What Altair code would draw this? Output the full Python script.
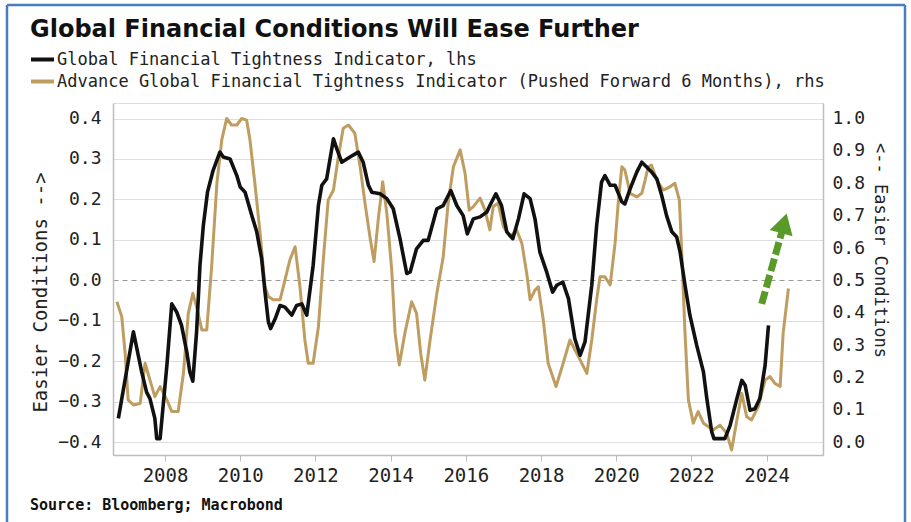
import altair as alt
import pandas as pd

# ---------------- text ----------------
TITLE = "Global Financial Conditions Will Ease Further"
SERIES_BLACK = "Global Financial Tightness Indicator, lhs"
SERIES_GOLD = "Advance Global Financial Tightness Indicator (Pushed Forward 6 Months), rhs"
SOURCE = "Source: Bloomberg; Macrobond"
LEFT_TITLE = "Easier Conditions -->"
RIGHT_TITLE = "<-- Easier Conditions"

# ---------------- axes ----------------
x_ticks = [2008, 2010, 2012, 2014, 2016, 2018, 2020, 2022, 2024]
left_ticks = [-0.4, -0.3, -0.2, -0.1, 0.0, 0.1, 0.2, 0.3, 0.4]
right_ticks = [0.0, 0.1, 0.2, 0.3, 0.4, 0.5, 0.6, 0.7, 0.8, 0.9, 1.0]

# ---------------- data ----------------
black_year = [2006.76, 2007.16, 2007.38, 2007.51, 2007.60, 2007.73, 2007.78, 2007.87, 2008.05, 2008.18,
              2008.31, 2008.44, 2008.58, 2008.66, 2008.74, 2008.84, 2008.93, 2009.02, 2009.13, 2009.28,
              2009.46, 2009.55, 2009.73, 2009.91, 2010.00, 2010.13, 2010.31, 2010.44, 2010.57, 2010.66,
              2010.75, 2010.81, 2010.93, 2011.06, 2011.19, 2011.37, 2011.50, 2011.64, 2011.77, 2011.94,
              2012.08, 2012.17, 2012.30, 2012.48, 2012.57, 2012.70, 2012.92, 2013.14, 2013.27, 2013.41,
              2013.50, 2013.72, 2013.90, 2014.07, 2014.25, 2014.43, 2014.52, 2014.69, 2014.87, 2015.00,
              2015.23, 2015.40, 2015.60, 2015.76, 2015.93, 2016.04, 2016.20, 2016.38, 2016.56, 2016.64,
              2016.80, 2016.95, 2017.09, 2017.25, 2017.40, 2017.55, 2017.71, 2017.84, 2017.97, 2018.15,
              2018.31, 2018.42, 2018.58, 2018.73, 2018.90, 2019.04, 2019.17, 2019.35, 2019.48, 2019.61,
              2019.70, 2019.84, 2019.97, 2020.15, 2020.23, 2020.37, 2020.55, 2020.68, 2020.81, 2020.94,
              2021.08, 2021.21, 2021.34, 2021.48, 2021.61, 2021.70, 2021.83, 2021.96, 2022.14, 2022.32,
              2022.41, 2022.54, 2022.60, 2022.89, 2023.03, 2023.21, 2023.34, 2023.43, 2023.56, 2023.69,
              2023.82, 2023.96, 2024.05]
black_value = [-0.341, -0.127, -0.226, -0.276, -0.292, -0.341, -0.391, -0.391, -0.21, -0.058,
               -0.078, -0.111, -0.177, -0.226, -0.249, -0.127, 0.037, 0.136, 0.218, 0.272,
               0.317, 0.305, 0.30, 0.259, 0.231, 0.218, 0.16, 0.12, 0.054, -0.029,
               -0.103, -0.119, -0.095, -0.062, -0.066, -0.086, -0.062, -0.058, -0.086, 0.037,
               0.185, 0.235, 0.251, 0.35, 0.325, 0.292, 0.305, 0.317, 0.292, 0.235,
               0.218, 0.214, 0.202, 0.177, 0.103, 0.017, 0.021, 0.078, 0.099, 0.099,
               0.177, 0.185, 0.222, 0.185, 0.16, 0.115, 0.152, 0.157, 0.169, 0.185,
               0.214, 0.185, 0.12, 0.103, 0.152, 0.214, 0.202, 0.152, 0.07, 0.021,
               -0.029, -0.012, -0.004, -0.045, -0.144, -0.185, -0.152, -0.012, 0.136, 0.243,
               0.259, 0.235, 0.235, 0.194, 0.189, 0.226, 0.268, 0.292, 0.28, 0.268,
               0.251, 0.21, 0.16, 0.12, 0.107, 0.07, -0.012, -0.086, -0.16, -0.226,
               -0.292, -0.374, -0.391, -0.391, -0.358, -0.292, -0.247, -0.259, -0.321, -0.317,
               -0.292, -0.21, -0.111]

gold_year = [2006.72, 2006.85, 2006.94, 2007.02, 2007.16, 2007.34, 2007.47, 2007.60, 2007.73, 2007.87,
             2008.05, 2008.18, 2008.35, 2008.49, 2008.62, 2008.74, 2008.84, 2008.98, 2009.11, 2009.24,
             2009.38, 2009.51, 2009.64, 2009.77, 2009.91, 2010.04, 2010.17, 2010.26, 2010.39, 2010.53,
             2010.66, 2010.75, 2010.88, 2011.06, 2011.19, 2011.32, 2011.46, 2011.59, 2011.72, 2011.81,
             2011.94, 2012.08, 2012.21, 2012.34, 2012.48, 2012.61, 2012.74, 2012.88, 2013.05, 2013.19,
             2013.32, 2013.45, 2013.56, 2013.67, 2013.79, 2013.90, 2014.03, 2014.12, 2014.23, 2014.38,
             2014.56, 2014.69, 2014.80, 2014.91, 2015.05, 2015.23, 2015.40, 2015.53, 2015.67, 2015.85,
             2015.98, 2016.09, 2016.20, 2016.38, 2016.51, 2016.64, 2016.73, 2016.86, 2017.00, 2017.18,
             2017.35, 2017.49, 2017.62, 2017.71, 2017.84, 2017.93, 2018.06, 2018.19, 2018.40, 2018.59,
             2018.77, 2018.95, 2019.22, 2019.35, 2019.48, 2019.57, 2019.70, 2019.84, 2019.97, 2020.06,
             2020.15, 2020.23, 2020.37, 2020.55, 2020.68, 2020.77, 2020.85, 2020.94, 2021.08, 2021.25,
             2021.43, 2021.56, 2021.68, 2021.74, 2021.83, 2021.92, 2022.05, 2022.18, 2022.32, 2022.58,
             2022.76, 2022.94, 2023.07, 2023.21, 2023.34, 2023.47, 2023.60, 2023.78, 2023.96, 2024.09,
             2024.22, 2024.36, 2024.44, 2024.58]
gold_value = [0.434, 0.388, 0.275, 0.131, 0.115, 0.120, 0.244, 0.192, 0.141, 0.172,
              0.131, 0.095, 0.095, 0.213, 0.398, 0.46, 0.419, 0.347, 0.347, 0.542,
              0.80, 0.934, 1.0, 0.98, 0.98, 1.0, 0.995, 0.934, 0.80, 0.645,
              0.48, 0.45, 0.44, 0.44, 0.501, 0.563, 0.604, 0.48, 0.316, 0.244,
              0.244, 0.357, 0.563, 0.748, 0.779, 0.882, 0.970, 0.98, 0.954, 0.851,
              0.738, 0.635, 0.558, 0.687, 0.805, 0.707, 0.532, 0.337, 0.239, 0.337,
              0.434, 0.398, 0.275, 0.192, 0.316, 0.46, 0.573, 0.738, 0.851, 0.903,
              0.831, 0.717, 0.728, 0.754, 0.717, 0.656, 0.728, 0.738, 0.666, 0.635,
              0.656, 0.615, 0.522, 0.44, 0.47, 0.48, 0.378, 0.244, 0.172, 0.244,
              0.316, 0.275, 0.213, 0.316, 0.44, 0.511, 0.511, 0.486, 0.615, 0.748,
              0.851, 0.841, 0.769, 0.758, 0.769, 0.81, 0.851, 0.856, 0.81, 0.779,
              0.789, 0.80, 0.748, 0.594, 0.337, 0.131, 0.059, 0.095, 0.059, 0.038,
              0.053, 0.028, -0.024, 0.069, 0.151, 0.079, 0.069, 0.11, 0.192, 0.203,
              0.182, 0.172, 0.337, 0.475]

# green "will ease further" arrow (data coordinates, left axis)
arrow_tail_year = [2023.87]
arrow_tail_value = [-0.058]
arrow_base_year = [2024.40]
arrow_base_value = [0.118]
arrow_head_year = [2024.46]
arrow_head_value = [0.141]

# ---------------- style ----------------
MONO = "DejaVu Sans Mono"
BLACK = "#111111"
GOLD = "#bf9d60"
GREEN = "#5a9a28"
BORDER = "#4a7ebb"
TEXT = "#222222"
AXISC = "#bdbdbd"

black_df = pd.DataFrame({"year": black_year, "value": black_value, "series": SERIES_BLACK})
gold_df = pd.DataFrame({"year": gold_year, "value": gold_value, "series": SERIES_GOLD})
shaft_df = pd.DataFrame({"year": arrow_tail_year, "value": arrow_tail_value,
                         "year2": arrow_base_year, "value2": arrow_base_value})
head_df = pd.DataFrame({"year": arrow_head_year, "value": arrow_head_value})

x_enc = alt.X("year:Q",
              scale=alt.Scale(domain=[2006.617, 2025.5], nice=False, zero=False),
              axis=alt.Axis(values=x_ticks, format="d", title=None, grid=False,
                            domainColor=AXISC, domainWidth=1.5, tickColor=AXISC, tickSize=6,
                            labelFont=MONO, labelFontSize=19, labelColor=TEXT, labelPadding=5))

left_scale = alt.Scale(domain=[-0.4314, 0.4383], nice=False, zero=False)
left_axis = alt.Axis(values=left_ticks, format=".1f", orient="left", title=LEFT_TITLE,
                     grid=True,
                     gridColor={"condition": {"test": "datum.value === 0", "value": "#9a9a9a"}, "value": "#dedede"},
                     gridDash={"condition": {"test": "datum.value === 0", "value": [5, 4]}, "value": []},
                     gridWidth=1.2,
                     ticks=False, domainColor=AXISC, domainWidth=1.5,
                     labelFont=MONO, labelFontSize=18, labelColor=TEXT, labelPadding=12,
                     titleFont=MONO, titleFontSize=19, titleFontWeight="normal", titleColor=TEXT,
                     titleAngle=270, titleX=-73, titleY=189, titleAlign="center", titleBaseline="middle")

right_scale = alt.Scale(domain=[-0.0393, 1.0479], nice=False, zero=False)
right_axis = alt.Axis(values=right_ticks, format=".1f", orient="right", title=RIGHT_TITLE,
                      grid=False, ticks=False, domainColor=AXISC, domainWidth=1.5,
                      labelFont=MONO, labelFontSize=18, labelColor=TEXT, labelPadding=9,
                      titleFont=MONO, titleFontSize=17, titleFontWeight="normal", titleColor=TEXT,
                      titleAngle=90, titleX=56, titleY=147, titleAlign="center", titleBaseline="middle")

color_enc = alt.Color("series:N",
                      scale=alt.Scale(domain=[SERIES_BLACK, SERIES_GOLD], range=[BLACK, GOLD]),
                      legend=alt.Legend(orient="none", legendX=-84, legendY=-57, title=None,
                                        direction="vertical", symbolType="stroke", symbolSize=529,
                                        symbolStrokeWidth=4, labelFont=MONO, labelFontSize=17,
                                        labelColor=TEXT, labelLimit=1000, labelOffset=1,
                                        rowPadding=0, padding=0))

gold = alt.Chart(gold_df).mark_line(strokeWidth=3, strokeJoin="round").encode(
    x=x_enc, y=alt.Y("value:Q", scale=right_scale, axis=right_axis), color=color_enc)

black = alt.Chart(black_df).mark_line(strokeWidth=3.6, strokeJoin="round").encode(
    x=x_enc, y=alt.Y("value:Q", scale=left_scale, axis=left_axis), color=color_enc)

shaft = alt.Chart(shaft_df).mark_rule(color=GREEN, strokeWidth=7, strokeDash=[13, 4], strokeCap="butt").encode(
    x=x_enc, x2="year2:Q", y=alt.Y("value:Q", scale=left_scale, axis=left_axis), y2="value2:Q")

head = alt.Chart(head_df).mark_point(shape="triangle-up", filled=True, size=560, angle=15.5,
                                     color=GREEN, opacity=1).encode(
    x=x_enc, y=alt.Y("value:Q", scale=left_scale, axis=left_axis))

title_t = alt.Chart(pd.DataFrame({"t": [TITLE]})).mark_text(
    font="DejaVu Sans", fontSize=24, fontWeight="bold", align="left", baseline="alphabetic",
    color=BLACK).encode(text="t:N", x=alt.value(-83), y=alt.value(-66))

source_t = alt.Chart(pd.DataFrame({"t": [SOURCE]})).mark_text(
    font=MONO, fontSize=15, fontWeight="bold", align="left", baseline="alphabetic",
    color=BLACK).encode(text="t:N", x=alt.value(-83), y=alt.value(407))

frame_df = pd.DataFrame({"k": [0]})
frame_left = alt.Chart(frame_df).mark_rule(color=BORDER, strokeWidth=2.5).encode(
    x=alt.value(-106), y=alt.value(-98), y2=alt.value(440))
frame_top = alt.Chart(frame_df).mark_rule(color=BORDER, strokeWidth=2.5).encode(
    x=alt.value(-106), x2=alt.value(792), y=alt.value(-98))
frame_right = alt.Chart(frame_df).mark_rule(color=BORDER, strokeWidth=2.5).encode(
    x=alt.value(792), y=alt.value(-98), y2=alt.value(440))

left_group = alt.layer(black, shaft, head, title_t, source_t, frame_left, frame_top, frame_right)

chart = alt.layer(gold, left_group).resolve_scale(y="independent").properties(
    width=710, height=352,
    autosize=alt.AutoSizeParams(type="none"),
    padding={"left": 113, "top": 103, "right": 88, "bottom": 67},
).configure_view(stroke=None).configure(background="white")

chart.save("out.html", embed_options={"renderer": "svg", "actions": False})
